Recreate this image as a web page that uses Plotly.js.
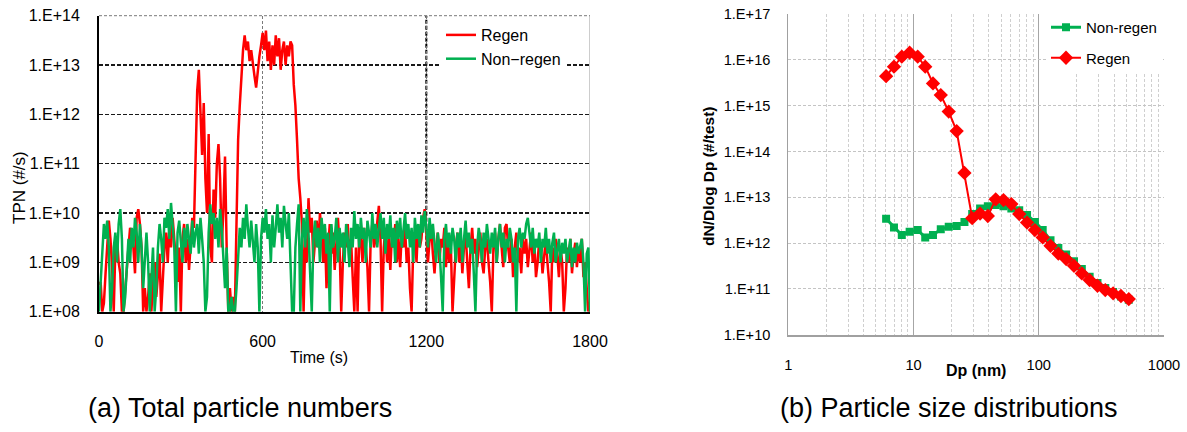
<!DOCTYPE html>
<html>
<head>
<meta charset="utf-8">
<script src="https://cdn.plot.ly/plotly-3.0.1.min.js"></script>
<style>
  html, body { margin: 0; padding: 0; background: #ffffff; }
  #chart { width: 1187px; height: 432px; }
</style>
</head>
<body>
<div id="chart"></div>
<script>
// ---------- (a) Total particle numbers: time series, sampled every 6 s from 0 s ----------
const timeStart = 0;
const timeStep = 6;
const timeTickVals = [0, 600, 1200, 1800];
const timeTickText = ['0', '600', '1200', '1800'];

const regenTPN = [
  3.5e8, 4e8, 1e8, 1.5e8, 6e8, 2e9, 7e9, 3e9, 8e8, 1e8,
  2e9, 3e9, 1e9, 6e8, 1e8, 1e8, 3e8, 1e9, 2e9, 5e9,
  4e9, 2e9, 6e8, 8e9, 1.2e10, 6e9, 2e9, 1e8, 3e8, 1e8,
  2e8, 6e8, 1e8, 4e8, 1e9, 2e8, 5e8, 1.5e9, 1e8, 6e8,
  2e9, 4e9, 1e9, 5e9, 2e9, 8e9, 3e9, 1e9, 4e8, 2e9,
  1e8, 3e9, 6e9, 1e9, 3e9, 7e8, 2e9, 8e9, 5e9, 1e11,
  3e12, 8e12, 1.2e12, 1.5e11, 1.7e12, 5e10, 1e10, 4e11, 2e9, 1e9,
  3e10, 8e9, 1e11, 2.5e11, 5e10, 2e9, 1.2e10, 1.4e11, 2e9, 1e8,
  3e8, 1e8, 2e8, 1e8, 6e9, 3e11, 1.5e12, 8e12, 2e13, 4e13,
  2e13, 3e13, 1.2e13, 2e13, 1e13, 6e12, 3.5e12, 8e12, 1.5e13, 2.5e13,
  4.5e13, 2e13, 5e13, 1.2e13, 3e13, 8e12, 2.5e13, 1e13, 4e13, 1.5e13,
  3.5e13, 8e12, 2e13, 3e13, 1e13, 2.5e13, 1.5e13, 3e13, 2.5e13, 4e12,
  1.5e12, 3e11, 5e10, 2e10, 6e9, 1e8, 3e9, 1e9, 2e10, 4e9,
  8e9, 1e9, 3e9, 7e9, 2e9, 1e10, 4e9, 1e9, 5e9, 3e8,
  2e9, 6e9, 1.5e9, 4e9, 7e8, 3e9, 8e9, 2e9, 1e8, 1e9,
  4e9, 2e9, 6e9, 1e9, 3e9, 5e8, 1e8, 2e9, 1e8, 4e9,
  3e9, 1e9, 5e9, 2e9, 8e8, 1e8, 3e9, 6e9, 2e9, 3e9,
  6e9, 1.4e10, 3e9, 1e8, 2e9, 5e9, 1e9, 3e9, 7e8, 4e9,
  2e9, 6e9, 1e9, 3e9, 8e8, 4e9, 2e9, 5e9, 1e9, 2e9,
  3e8, 1e8, 2e9, 4e9, 1e9, 6e9, 2e9, 3e9, 8e9, 1.2e10,
  4e9, 1e9, 3e9, 5e9, 1.5e9, 6e8, 2e9, 4e9, 1e9, 3e9,
  2e9, 5e9, 8e8, 3e9, 1e9, 2e9, 1e8, 6e8, 2e9, 4e9,
  1e9, 3e9, 6e8, 2e9, 4e9, 1e9, 3e8, 2e9, 5e9, 1.5e9,
  3e9, 8e8, 2e9, 4e9, 1e9, 6e8, 2e9, 3e9, 1e9, 4e8,
  1e8, 2e9, 4e9, 1e9, 3e9, 6e9, 2e9, 8e8, 5e9, 6e9,
  2e9, 1e9, 3e9, 5e8, 2e9, 4e9, 1e9, 2e9, 6e8, 3e9,
  1.5e9, 3e9, 8e8, 2e9, 4e9, 1e9, 2.5e9, 5e8, 1e9, 3e9,
  2e9, 6e8, 1.5e9, 3e9, 1e9, 4e8, 1e8, 2e9, 1e9, 3e9,
  1.5e9, 5e8, 2e9, 1e9, 1e8, 3e8, 2e9, 1e9, 3e9, 6e8,
  1.5e9, 2.5e9, 8e8, 2e9, 1e9, 3e9, 5e8, 1e9, 3e8, 1e8,
  1.5e8
];

const nonRegenTPN = [
  1e8, 5e8, 2e9, 6e9, 3e9, 7e9, 2e9, 1e8, 3e8, 2e9,
  4e9, 1e9, 6e9, 1.2e10, 3e9, 1e8, 2e8, 8e8, 3e9, 1e9,
  5e9, 2e9, 8e9, 4e9, 1e9, 6e9, 2e9, 3e8, 1e9, 4e9,
  1e9, 1e8, 5e8, 2e9, 1e8, 3e8, 2e9, 6e9, 3e9, 1e9,
  8e9, 5e9, 1.2e10, 3e9, 1.6e10, 6e9, 2e9, 1e8, 4e9, 7e9,
  3e9, 1e9, 5e9, 2e9, 6e9, 3e9, 1.5e9, 7e9, 2e9, 4e9,
  6e9, 1.5e9, 8e9, 3e9, 1e9, 1e8, 2e8, 4e9, 1.5e10, 6e9,
  1e10, 3e9, 8e9, 2e9, 1.2e10, 5e9, 1e9, 3e8, 2e9, 1e8,
  1e8, 2e8, 1e8, 1e8, 3e8, 1e9, 5e9, 2e9, 8e9, 3e9,
  1.5e10, 5e9, 2e9, 7e9, 3e9, 1e9, 6e9, 2e9, 1e8, 3e9,
  8e9, 4e9, 1.2e10, 3e9, 6e9, 1e9, 9e9, 2e9, 5e9, 1.5e10,
  4e9, 8e9, 2e9, 1.4e10, 6e9, 3e9, 1e10, 1e9, 1e8, 1e8,
  2e9, 6e9, 1.5e10, 1e8, 3e9, 8e9, 2e9, 1.2e10, 4e9, 6e8,
  1e8, 3e9, 7e9, 2e9, 5e9, 1e9, 8e9, 3e9, 6e9, 1.5e9,
  4e9, 1e8, 6e9, 2e9, 3e9, 8e9, 1e9, 5e9, 2e9, 4e9,
  1e9, 6e9, 3e9, 8e8, 5e9, 2e9, 1.1e10, 3e9, 6e9, 2e9,
  8e9, 3e9, 5e9, 1e9, 7e9, 4e9, 2e9, 1e10, 3e9, 6e9,
  2e9, 5e9, 1e10, 3e9, 8e9, 1.5e9, 6e9, 3e9, 9e9, 2e9,
  5e9, 1e9, 7e9, 3e9, 8e9, 2e9, 4e9, 1e10, 3e9, 6e9,
  2e9, 5e9, 1e9, 8e9, 3e9, 6e9, 2e9, 9e9, 4e9, 1.1e10,
  5e9, 2e9, 8e9, 3e9, 6e9, 2e9, 1e9, 4e9, 2e9, 5e8,
  1e8, 3e9, 6e9, 2e9, 4e9, 1.5e9, 5e9, 3e9, 1e9, 4e9,
  2e9, 5e9, 1e9, 3e9, 7e9, 2e9, 4e9, 1.5e9, 3e9, 6e8,
  1e8, 2e9, 5e9, 3e9, 1e9, 4e9, 2e9, 6e9, 3e9, 1.5e9,
  4e9, 2e9, 5e9, 1e9, 3e9, 6e9, 2e9, 4e9, 1e9, 3e9,
  2e9, 5e9, 3e9, 1e9, 2e9, 1e8, 3e9, 5e9, 2e9, 4e9,
  3e9, 6e9, 8e9, 4e9, 2e9, 5e9, 1.5e9, 3e9, 2e9, 4e9,
  1e9, 3e9, 2e9, 5e9, 1.5e9, 3e9, 1e9, 2.5e9, 4e9, 1e9,
  2e9, 3e9, 1e9, 2.5e9, 1.5e9, 3e9, 1e9, 2e9, 3e9, 8e8,
  2e9, 1e9, 2.5e9, 1.5e9, 2e9, 3e9, 1e9, 1e8, 1.5e9, 2e9,
  1e8
];

const tpnTickVals = [1e8, 1e9, 1e10, 1e11, 1e12, 1e13, 1e14];
const tpnTickText = ['1.E+08', '1.E+09', '1.E+10', '1.E+11', '1.E+12', '1.E+13', '1.E+14'];

// ---------- (b) Particle size distributions ----------
const dpNm = [6.04, 6.98, 8.06, 9.31, 10.8, 12.4, 14.3, 16.5, 19.1, 22.1, 25.5, 29.4,
  34.0, 39.2, 45.3, 52.3, 60.4, 69.8, 80.6, 93.1, 107.5, 124.1, 143.3, 165.5,
  191.1, 220.7, 254.8, 294.3, 339.8, 392.4, 453.2, 523.3];

const nonRegenPSD = [3.4e12, 2.2e12, 1.5e12, 1.77e12, 1.92e12, 1.33e12, 1.5e12, 2.0e12,
  2.28e12, 2.35e12, 2.9e12, 4.3e12, 5.7e12, 6.4e12, 6.8e12, 6.4e12, 5.7e12, 5.2e12,
  4.1e12, 2.9e12, 1.92e12, 1.15e12, 7.8e11, 5.6e11, 4.0e11, 2.7e11, 1.85e11, 1.35e11,
  1.05e11, 8.5e10, 6.8e10, 5.8e10];

const regenPSD = [4.4e15, 7.1e15, 1.17e16, 1.43e16, 1.17e16, 7.1e15, 3.06e15, 1.7e15,
  7.4e14, 2.79e14, 3.4e13, 3.5e12, 4.4e12, 3.9e12, 9.0e12, 8.7e12, 7.1e12, 4.3e12,
  2.8e12, 1.92e12, 1.33e12, 8.7e11, 5.9e11, 4.47e11, 3.2e11, 2.18e11, 1.56e11, 1.17e11,
  9.4e10, 8.0e10, 7.0e10, 6.0e10];

const dpTickVals = [1, 10, 100, 1000];
const dpTickText = ['1', '10', '100', '1000'];
const psdTickVals = [1e10, 1e11, 1e12, 1e13, 1e14, 1e15, 1e16, 1e17];
const psdTickText = ['1.E+10', '1.E+11', '1.E+12', '1.E+13', '1.E+14', '1.E+15', '1.E+16', '1.E+17'];

// ---------- drawing ----------
const W = 1187, H = 432;
const FONT = 'Liberation Sans, Arial, sans-serif';
const RED = '#FF0000', GREEN = '#00B050';
const px = v => v / W;
const py = v => (H - v) / H;

const traces = [
  { x0: timeStart, dx: timeStep, y: regenTPN, xaxis: 'x', yaxis: 'y', mode: 'lines',
    name: 'Regen', legend: 'legend', legendgroup: 'a1',
    line: { color: RED, width: 2.5 } },
  { x0: timeStart, dx: timeStep, y: nonRegenTPN, xaxis: 'x', yaxis: 'y', mode: 'lines',
    name: 'Non\u2212regen', legend: 'legend', legendgroup: 'a2',
    line: { color: GREEN, width: 2.5 } },
  { x: dpNm, y: nonRegenPSD, xaxis: 'x2', yaxis: 'y2', mode: 'lines+markers',
    name: 'Non-regen', legend: 'legend2', legendgroup: 'b1',
    line: { color: GREEN, width: 3 }, marker: { symbol: 'square', size: 8, color: GREEN } },
  { x: dpNm, y: regenPSD, xaxis: 'x2', yaxis: 'y2', mode: 'lines+markers',
    name: 'Regen', legend: 'legend2', legendgroup: 'b2',
    line: { color: RED, width: 2 }, marker: { symbol: 'diamond', size: 11, color: RED } }
];

const layout = {
  width: W, height: H,
  margin: { l: 0, r: 0, t: 0, b: 0 },
  paper_bgcolor: '#ffffff', plot_bgcolor: '#ffffff',
  font: { family: FONT, color: '#000000' },
  showlegend: true,
  xaxis: {
    domain: [px(99), px(590)], anchor: 'y', range: [0, 1800],
    tickmode: 'array', tickvals: timeTickVals, ticktext: timeTickText,
    ticks: '', ticklabelstandoff: 14, tickfont: { size: 16, family: FONT, color: '#000' },
    showline: true, linecolor: '#000000', linewidth: 2,
    showgrid: true, gridcolor: '#7a7a7a', gridwidth: 1, griddash: '3px,2px',
    zeroline: false, fixedrange: true
  },
  yaxis: {
    domain: [py(311.7), py(15.7)], anchor: 'x', type: 'log', range: [8, 14],
    tickmode: 'array', tickvals: tpnTickVals, ticktext: tpnTickText,
    ticks: '', ticklabelstandoff: 14, tickfont: { size: 16, family: FONT, color: '#000' },
    showline: true, linecolor: '#000000', linewidth: 2,
    showgrid: true, gridcolor: '#1a1a1a', gridwidth: 1.2, griddash: '4px,2px',
    zeroline: false, fixedrange: true
  },
  xaxis2: {
    domain: [px(788.3), px(1164)], anchor: 'y2', type: 'log', range: [0, 3],
    tickmode: 'array', tickvals: dpTickVals, ticktext: dpTickText,
    ticks: '', ticklabelstandoff: 16, tickfont: { size: 14.6, family: FONT, color: '#000' },
    showline: true, linecolor: '#a0a0a0', linewidth: 2,
    showgrid: true, gridcolor: '#a6a6a6', gridwidth: 1,
    minor: { dtick: 'D1', showgrid: true, gridcolor: '#cfcfcf', gridwidth: 1, griddash: '3px,2px', ticks: '' },
    zeroline: false, fixedrange: true
  },
  yaxis2: {
    domain: [py(334.7), py(14)], anchor: 'x2', type: 'log', range: [10, 17],
    tickmode: 'array', tickvals: psdTickVals, ticktext: psdTickText,
    ticks: '', ticklabelstandoff: 14, tickfont: { size: 14.6, family: FONT, color: '#000' },
    showline: true, linecolor: '#a0a0a0', linewidth: 1,
    showgrid: true, gridcolor: '#c4c4c4', gridwidth: 1, griddash: '3px,2px',
    zeroline: false, fixedrange: true
  },
  legend: {
    x: px(441), y: py(18), xanchor: 'left', yanchor: 'top',
    bgcolor: '#ffffff', borderwidth: 0, itemwidth: 30, tracegroupgap: 0,
    font: { size: 16, family: FONT, color: '#000' }
  },
  legend2: {
    x: px(1046), y: py(11), xanchor: 'left', yanchor: 'top',
    bgcolor: '#ffffff', borderwidth: 0, itemwidth: 30, tracegroupgap: 8,
    font: { size: 15, family: FONT, color: '#000' }
  },
  shapes: [
    { type: 'line', xref: 'x', yref: 'y domain', x0: 1200, x1: 1200, y0: 0, y1: 1,
      line: { color: '#000000', width: 2, dash: '4px,2px' }, layer: 'below' },
    { type: 'line', xref: 'x', yref: 'y domain', x0: 1800, x1: 1800, y0: 0, y1: 1,
      line: { color: '#9a9a9a', width: 1 }, layer: 'below' },
    { type: 'line', xref: 'x domain', yref: 'y domain', x0: 0, x1: 1, y0: 1, y1: 1,
      line: { color: '#7a7a7a', width: 1, dash: '3px,2px' }, layer: 'below' }
  ],
  annotations: [
    { text: 'Time (s)', xref: 'paper', yref: 'paper', x: px(319), y: py(357),
      xanchor: 'center', yanchor: 'middle', showarrow: false,
      font: { size: 16, family: FONT, color: '#000' } },
    { text: 'TPN (#/s)', xref: 'paper', yref: 'paper', x: px(19), y: py(187),
      xanchor: 'center', yanchor: 'middle', showarrow: false, textangle: -90,
      font: { size: 17, family: FONT, color: '#000' } },
    { text: '<b>dN/Dlog Dp (#/test)</b>', xref: 'paper', yref: 'paper', x: px(708), y: py(176),
      xanchor: 'center', yanchor: 'middle', showarrow: false, textangle: -90,
      font: { size: 15.5, family: FONT, color: '#000' } },
    { text: '<b>Dp (nm)</b>', xref: 'paper', yref: 'paper', x: px(976), y: py(370),
      xanchor: 'center', yanchor: 'middle', showarrow: false,
      font: { size: 16, family: FONT, color: '#000' } },
    { text: '(a) Total particle numbers', xref: 'paper', yref: 'paper', x: px(86), y: py(408),
      xanchor: 'left', yanchor: 'middle', showarrow: false,
      font: { size: 27, family: FONT, color: '#000' } },
    { text: '(b) Particle size distributions', xref: 'paper', yref: 'paper', x: px(778), y: py(408),
      xanchor: 'left', yanchor: 'middle', showarrow: false,
      font: { size: 27, family: FONT, color: '#000' } }
  ]
};

Plotly.newPlot('chart', traces, layout, { staticPlot: true, displayModeBar: false });
</script>
</body>
</html>
